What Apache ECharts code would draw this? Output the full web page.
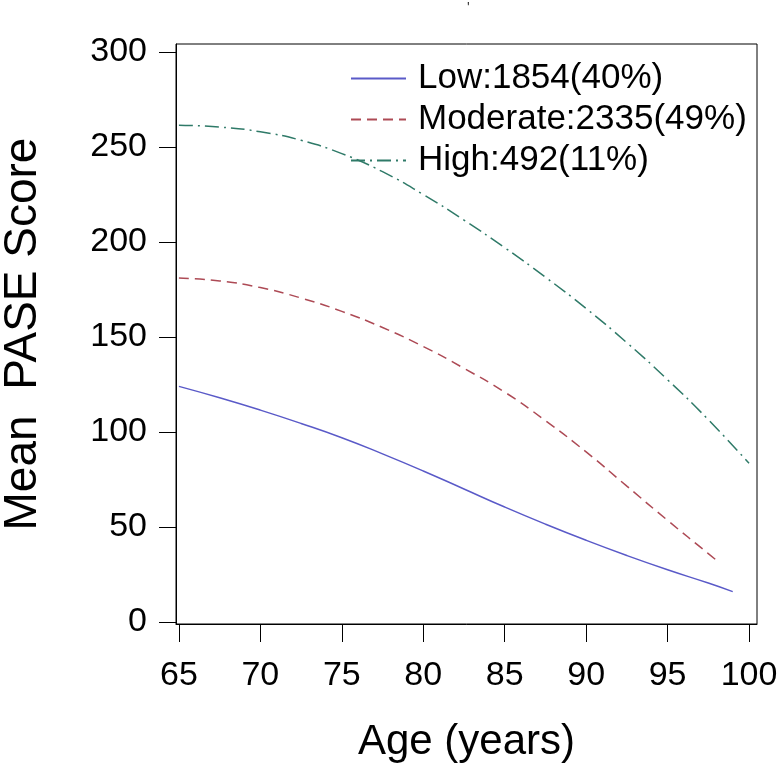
<!DOCTYPE html>
<html>
<head>
<meta charset="utf-8">
<script src="https://cdn.jsdelivr.net/npm/echarts@6/dist/echarts.min.js"></script>
<style>html,body{margin:0;padding:0;background:#fff}#c{width:780px;height:772px}</style>
</head>
<body>
<div id="c"></div>
<script>
var ages = [65, 67.5, 70, 72.5, 75, 77.5, 80, 82.5, 85, 87.5, 90, 92.5, 95, 97.5];
var lowAges = ages.concat([99]);
var lowVals = [124, 118, 111.5, 104.5, 97, 88.5, 79.5, 70, 60.5, 51.5, 43, 35, 27.5, 20.5, 16];
var modAges = ages.concat([98]);
var modVals = [181, 179.5, 176, 170.5, 163.5, 155, 145, 133.5, 121, 106, 89.5, 71.5, 53.5, 36, 32.5];
var highAges = ages.concat([100]);
var highVals = [261.5, 260.5, 258, 253.5, 246.5, 237, 225, 211.5, 197, 181.5, 165, 147, 127.5, 106.5, 83.5];
var seriesNames = ['Low:1854(40%)', 'Moderate:2335(49%)', 'High:492(11%)'];
var xTicks = [65, 70, 75, 80, 85, 90, 95, 100];
var yTicks = [0, 50, 100, 150, 200, 250, 300];

function pairs(xs, ys) { return xs.map(function (x, i) { return [x, ys[i]]; }); }

var FONT = 'Liberation Sans, Arial, sans-serif';
var chart = echarts.init(document.getElementById('c'), null, {renderer: 'canvas'});
chart.setOption({
  backgroundColor: '#ffffff',
  animation: false,
  title: {text: "'", left: 462, top: -4, textStyle: {fontSize: 14, color: '#333', fontWeight: 'normal'}},
  grid: {left: 176, right: 23, top: 44, bottom: 148, containLabel: false, outerBoundsMode: 'none',
         show: true, borderColor: '#000', borderWidth: 1, backgroundColor: 'transparent'},
  legend: {
    orient: 'vertical', left: 350, top: 61, padding: 0,
    itemWidth: 55, itemHeight: 14, itemGap: 6,
    itemStyle: {opacity: 0},
    textStyle: {fontFamily: FONT, fontSize: 35, color: '#000', lineHeight: 32, padding: [0, 0, 0, 7]},
    data: seriesNames
  },
  xAxis: {
    type: 'value', min: 64.82, max: 100.49,
    name: 'Age (years)', nameLocation: 'middle', nameGap: 97,
    nameTextStyle: {fontFamily: FONT, fontSize: 42, color: '#000'},
    axisLine: {show: true, onZero: false, lineStyle: {color: '#000', width: 1}},
    axisTick: {show: true, inside: false, length: 18, lineStyle: {color: '#000'}, customValues: xTicks},
    axisLabel: {fontFamily: FONT, fontSize: 34, color: '#000', margin: 35, customValues: xTicks},
    splitLine: {show: false}
  },
  yAxis: {
    type: 'value', min: -1.05, max: 304.2,
    name: 'Mean  PASE Score', nameLocation: 'middle', nameGap: 130, nameRotate: 90,
    nameTextStyle: {fontFamily: FONT, fontSize: 46, color: '#000'},
    axisLine: {show: true, onZero: false, lineStyle: {color: '#000', width: 1}},
    axisTick: {show: true, inside: false, length: 17, lineStyle: {color: '#000'}, customValues: yTicks},
    axisLabel: {fontFamily: FONT, fontSize: 34, color: '#000', margin: 29, customValues: yTicks},
    splitLine: {show: false}
  },
  series: [
    {name: seriesNames[0], type: 'line', smooth: true, showSymbol: false, symbol: 'none',
     data: pairs(lowAges, lowVals), lineStyle: {color: '#5a5ac8', width: 1.5, type: 'solid'}, itemStyle: {color: '#5a5ac8'}},
    {name: seriesNames[1], type: 'line', smooth: true, showSymbol: false, symbol: 'none',
     data: pairs(modAges, modVals), lineStyle: {color: '#ad4a55', width: 1.5, type: [10, 6]}, itemStyle: {color: '#ad4a55'}},
    {name: seriesNames[2], type: 'line', smooth: true, showSymbol: false, symbol: 'none',
     data: pairs(highAges, highVals), lineStyle: {color: '#2f7a68', width: 1.5, type: [14, 5, 2, 5]}, itemStyle: {color: '#2f7a68'}}
  ]
});
</script>
</body>
</html>
